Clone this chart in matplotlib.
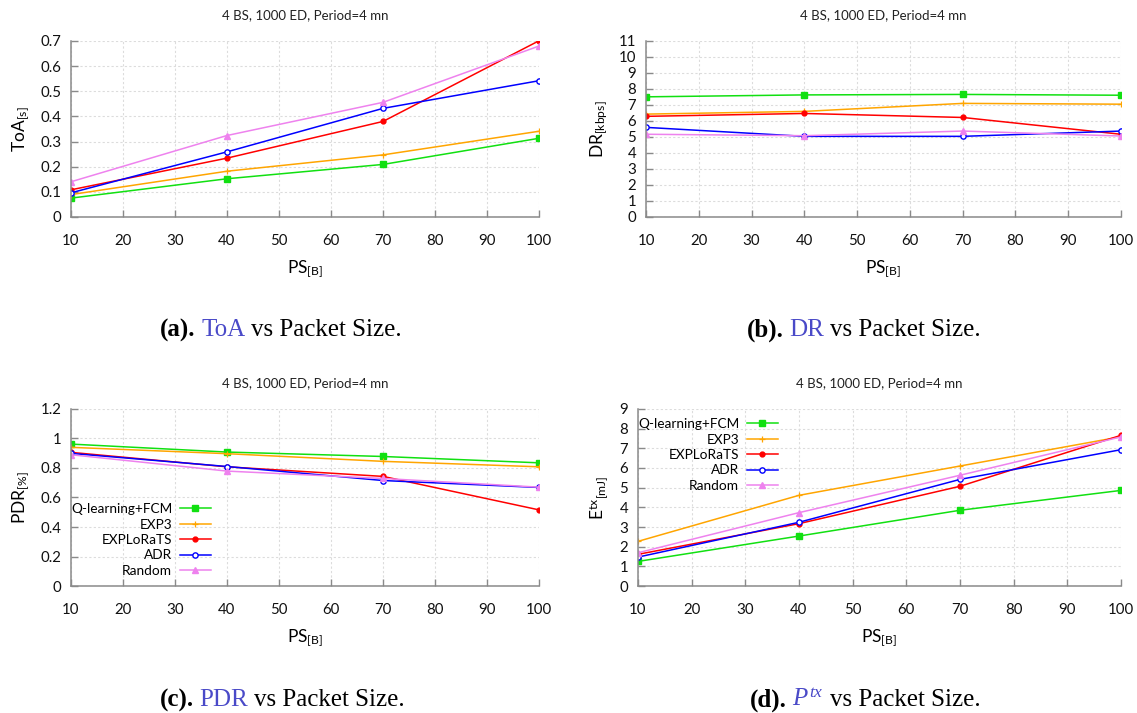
import matplotlib
matplotlib.use("Agg")
import matplotlib.pyplot as plt
from matplotlib.ticker import FuncFormatter
from matplotlib.offsetbox import TextArea, HPacker, AnchoredOffsetbox

plt.rcParams['font.family'] = ['Lato', 'DejaVu Sans']
plt.rcParams['mathtext.fontset'] = 'custom'
plt.rcParams['mathtext.it'] = 'Liberation Serif:italic'
plt.rcParams['mathtext.rm'] = 'Liberation Serif'

# packet sizes
ps = [10, 40, 70, 100]
methods = ['Q-learning+FCM', 'EXP3', 'EXPLoRaTS', 'ADR', 'Random']

# time on air [s]
toa_q = [0.075, 0.152, 0.209, 0.313]
toa_exp3 = [0.089, 0.182, 0.247, 0.341]
toa_ts = [0.108, 0.234, 0.380, 0.701]
toa_adr = [0.096, 0.259, 0.432, 0.542]
toa_rnd = [0.140, 0.324, 0.456, 0.680]

# data rate [kbps]
dr_q = [7.51, 7.63, 7.66, 7.61]
dr_exp3 = [6.43, 6.60, 7.10, 7.05]
dr_ts = [6.29, 6.47, 6.22, 5.17]
dr_adr = [5.60, 5.04, 5.04, 5.37]
dr_rnd = [5.17, 5.08, 5.37, 5.06]

# packet delivery ratio
pdr_q = [0.962, 0.908, 0.878, 0.835]
pdr_exp3 = [0.940, 0.897, 0.845, 0.808]
pdr_ts = [0.906, 0.808, 0.743, 0.516]
pdr_adr = [0.899, 0.810, 0.715, 0.668]
pdr_rnd = [0.890, 0.779, 0.729, 0.670]

# tx energy [mJ]
e_q = [1.25, 2.54, 3.85, 4.86]
e_exp3 = [2.27, 4.61, 6.10, 7.59]
e_ts = [1.61, 3.17, 5.07, 7.66]
e_adr = [1.47, 3.24, 5.42, 6.93]
e_rnd = [1.69, 3.73, 5.63, 7.58]

colors = ['#11e011', '#ffa500', '#ff0000', '#0000ff', '#ee82ee']
styles = [dict(marker='s', ms=4),
          dict(marker='+', ms=4, mew=0.9),
          dict(marker='o', ms=3.5),
          dict(marker='o', ms=3.8, mfc='white', mew=1.0),
          dict(marker='^', ms=4)]

title = '4 BS, 1000 ED, Period=4 mn'
caption_blue = '#4a4ac8'

fig = plt.figure(figsize=(11.37, 7.13), dpi=100)

ax_pos = [[0.0624, 0.6957, 0.4117, 0.2468],
          [0.5682, 0.6957, 0.4177, 0.2468],
          [0.0624, 0.1781, 0.4117, 0.2483],
          [0.5611, 0.1781, 0.4248, 0.2483]]


def setup(ax, series, ylim, ystep, ylabel):
    for vals, c, name, st in zip(series, colors, methods, styles):
        ax.plot(ps, vals, color=c, lw=1.1, label=name, mec=c, **st)
    ax.set_xlim(10, 100)
    ax.set_ylim(0, ylim)
    ax.set_xticks(range(10, 101, 10))
    n = int(round(ylim / ystep))
    ax.set_yticks([i * ystep for i in range(n + 1)])
    ax.yaxis.set_major_formatter(FuncFormatter(lambda v, p: '%g' % round(v, 3)))
    ax.grid(True, color='#dcdcdc', ls=(0, (2, 2)), lw=0.8)
    for s in ['top', 'right']:
        ax.spines[s].set_visible(False)
    for s in ['left', 'bottom']:
        ax.spines[s].set_color('#8a8a8a')
        ax.spines[s].set_linewidth(1.1)
    ax.tick_params(direction='in', length=5, width=1.0, color='#8a8a8a',
                   labelsize=10.8, labelcolor='#111111')
    ax.tick_params(axis='x', pad=12)
    ax.tick_params(axis='y', pad=7)
    ax.set_title(title, fontsize=9.5, pad=16, color='#222222')
    ax.set_xlabel(r'PS$_\mathregular{[B]}$', fontsize=12.5, labelpad=8)
    ax.set_ylabel(ylabel, fontsize=12.5, labelpad=6)


ax1 = fig.add_axes(ax_pos[0])
setup(ax1, [toa_q, toa_exp3, toa_ts, toa_adr, toa_rnd], 0.7, 0.1, r'ToA$_\mathregular{[s]}$')
ax2 = fig.add_axes(ax_pos[1])
setup(ax2, [dr_q, dr_exp3, dr_ts, dr_adr, dr_rnd], 11, 1, r'DR$_\mathregular{[kbps]}$')
ax3 = fig.add_axes(ax_pos[2])
setup(ax3, [pdr_q, pdr_exp3, pdr_ts, pdr_adr, pdr_rnd], 1.2, 0.2, r'PDR$_\mathregular{[\%]}$')
ax4 = fig.add_axes(ax_pos[3])
setup(ax4, [e_q, e_exp3, e_ts, e_adr, e_rnd], 9, 1, r'E$^\mathregular{tx}{}_\mathregular{[mJ]}$')

leg_kw = dict(loc='upper left', frameon=False, markerfirst=False, fontsize=9.8,
              handlelength=2.3, handletextpad=0.55, labelspacing=0.25,
              borderpad=0, borderaxespad=0)
ax3.legend(bbox_to_anchor=(0.0, 0.468), **leg_kw)
ax4.legend(bbox_to_anchor=(0.0, 0.948), **leg_kw)

# sub-figure captions
captions = [('(a).', 'ToA', 0.2471, 1 - 330 / 713),
            ('(b).', 'DR', 0.7599, 1 - 330 / 713),
            ('(c).', 'PDR', 0.2480, 1 - 700 / 713),
            ('(d).', r'$P^{tx}$', 0.7608, 1 - 700 / 713)]
serif = ['Liberation Serif', 'DejaVu Serif']
for lab, word, cx, cy in captions:
    parts = [TextArea(lab, textprops=dict(family=serif, weight='bold', size=18)),
             TextArea(word, textprops=dict(family=serif, size=18, color=caption_blue)),
             TextArea('vs Packet Size.', textprops=dict(family=serif, size=18))]
    box = HPacker(children=parts, align='baseline', pad=0, sep=4)
    ab = AnchoredOffsetbox(loc='center', child=box, frameon=False, pad=0, borderpad=0,
                           bbox_to_anchor=(cx, cy), bbox_transform=fig.transFigure)
    fig.add_artist(ab)

fig.savefig('out.png', dpi=100)
